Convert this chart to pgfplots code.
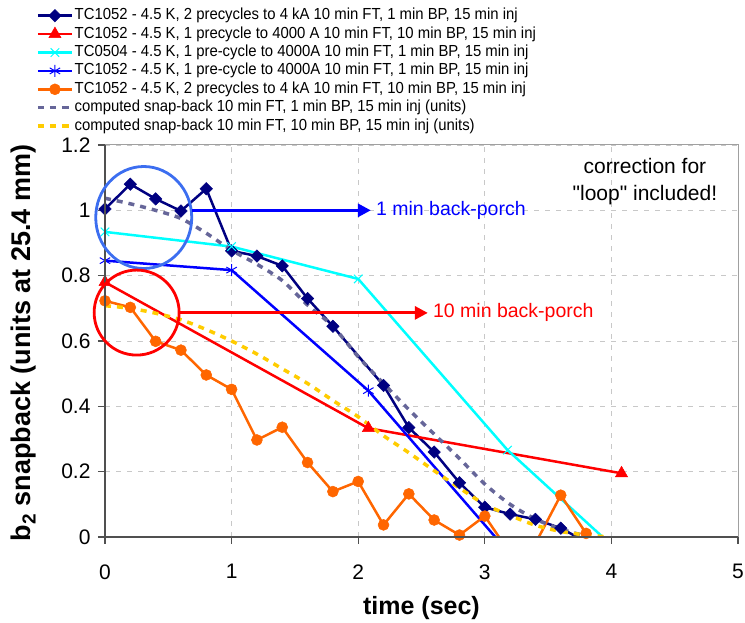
\documentclass[border=0pt]{standalone}
\usepackage{fontspec}
\setmainfont{Liberation Sans}
\newfontfamily\legfont{Liberation Sans}[FakeStretch=0.93]
\newfontfamily\nolig{Liberation Sans}[Ligatures=TeXOff]
\usepackage{pgfplots}
\pgfplotsset{compat=1.18}
\usetikzlibrary{arrows.meta}
\definecolor{cnavy}{RGB}{0,0,128}
\definecolor{cred}{RGB}{255,0,0}
\definecolor{ccyan}{RGB}{0,255,255}
\definecolor{cblue}{RGB}{0,0,255}
\definecolor{corange}{RGB}{255,102,0}
\definecolor{cgrey}{RGB}{102,102,153}
\definecolor{cyellow}{RGB}{255,204,0}
\definecolor{circblue}{RGB}{60,110,240}
\definecolor{axgray}{RGB}{80,80,80}
\definecolor{boxgray}{RGB}{160,160,160}
\definecolor{gridgray}{RGB}{200,200,200}
\begin{document}
\begin{tikzpicture}
\useasboundingbox (0,0) rectangle (745bp,623bp);
\begin{axis}[
  name=ax,
  at={(105bp,86bp)}, anchor=south west,
  scale only axis, width=633bp, height=392bp,
  xmin=0, xmax=5, ymin=0, ymax=1.2,
  xtick={0,1,2,3,4,5},
  ytick={0,0.2,0.4,0.6,0.8,1,1.2},
  yticklabels={0,0.2,0.4,0.6,0.8,1,1.2},
  xticklabels={0,1,2,3,4,5},
  tick align=outside, xtick pos=bottom, ytick pos=left,
  major tick length=7bp,
  tick style={draw=axgray, line width=1.2bp},
  axis line style={draw=boxgray, line width=1bp},
  grid=major,
  grid style={draw=gridgray, line width=0.8bp, dash pattern=on 5bp off 6bp},
  ticklabel style={font=\fontsize{21bp}{24bp}\selectfont},
  xticklabel style={yshift=-17bp},
  yticklabel style={xshift=-4bp},
  /pgf/number format/assume math mode=true,
  xlabel={time (sec)},
  ylabel={b\textsubscript{2} snapback (units at 25.4 mm)},
  xlabel style={font=\bfseries\fontsize{25bp}{28bp}\selectfont, at={(axis description cs:0.5,-0.181)}, anchor=center},
  ylabel style={font=\bfseries\fontsize{27bp}{30bp}\selectfont, at={(axis description cs:-0.128,0.495)}, anchor=center},
  legend cell align=left,
  legend style={at={(axis description cs:-0.109,1.352)}, anchor=north west,
    draw=none, fill=none, inner sep=0pt, row sep=1.4bp,
    font=\legfont\fontsize{16bp}{18bp}\selectfont,
    nodes={inner sep=1bp, text height=11.5bp, text depth=3.5bp}},
  legend image code/.code={\draw[mark repeat=2,mark phase=2,#1] plot coordinates {(0bp,0bp) (17bp,0bp) (34bp,0bp)};},
]
\addplot[color=cnavy, line width=2.5bp, mark=square*, mark size=4.4bp, mark options={solid, rotate=45, line width=0.5bp}] coordinates {
(0,1.004) (0.2,1.08) (0.4,1.035) (0.6,0.998) (0.8,1.066) (1.0,0.876) (1.2,0.86) (1.4,0.83) (1.6,0.73) (1.8,0.645) (2.2,0.464) (2.4,0.335) (2.6,0.26) (2.8,0.166) (3.0,0.091) (3.2,0.07) (3.4,0.054) (3.6,0.027) (3.8,-0.015)};
\addlegendentry{TC1052 - 4.5 K, 2 precycles to 4 kA 10 min FT, 1 min BP, 15 min inj}
\addplot[color=cred, line width=2.5bp, mark=triangle*, mark size=7bp, mark options={solid, line width=0.5bp}] coordinates {
(0,0.78) (2.08,0.333) (4.08,0.195)};
\addlegendentry{TC1052 - 4.5 K, 1 precycle to 4000 A 10 min FT, 10 min BP, 15 min inj}
\addplot[color=ccyan, line width=2.5bp, mark=x, mark size=6bp, mark options={solid, line width=1bp}] coordinates {
(0,0.934) (1.0,0.889) (2.0,0.79) (3.18,0.266) (4.1,-0.06)};
\addlegendentry{TC0504 - 4.5 K, 1 pre-cycle to 4000A 10 min FT, 1 min BP, 15 min inj}
\addplot[color=cblue, line width=2.5bp, mark=asterisk, mark size=6bp, mark options={solid, line width=1bp}] coordinates {
(0,0.846) (1.0,0.817) (2.08,0.448) (3.15,-0.03)};
\addlegendentry{TC1052 - 4.5 K, 1 pre-cycle to 4000A 10 min FT, 1 min BP, 15 min inj}
\addplot[color=corange, line width=2.5bp, mark=*, mark size=5.5bp, mark options={solid, line width=0.5bp}] coordinates {
(0,0.723) (0.2,0.703) (0.4,0.599) (0.6,0.572) (0.8,0.496) (1.0,0.452) (1.2,0.297) (1.4,0.336) (1.6,0.228) (1.8,0.139) (2.0,0.17) (2.2,0.037) (2.4,0.132) (2.6,0.052) (2.8,0.006) (3.0,0.064) (3.2,-0.05) (3.4,-0.02) (3.6,0.128) (3.8,0.011)};
\addlegendentry{TC1052 - 4.5 K, 2 precycles to 4 kA 10 min FT, 10 min BP, 15 min inj}
\addplot[color=cgrey, line width=3.5bp, dash pattern=on 6bp off 6bp, smooth] coordinates {
(0,1.037) (0.2,1.02) (0.4,1.0) (0.6,0.975) (0.8,0.93) (1.0,0.878) (1.2,0.835) (1.4,0.785) (1.6,0.71) (1.8,0.645) (2.0,0.552) (2.2,0.47) (2.4,0.39) (2.6,0.315) (2.8,0.24) (3.0,0.162) (3.2,0.1) (3.4,0.055) (3.6,0.024) (3.8,0.003)};
\addlegendentry{computed snap-back 10 min FT, 1 min BP, 15 min inj (units)}
\addplot[color=cyellow, line width=3.5bp, dash pattern=on 6bp off 6bp, smooth] coordinates {
(0,0.708) (0.2,0.70) (0.4,0.685) (0.6,0.665) (0.8,0.635) (1.0,0.6) (1.2,0.56) (1.4,0.515) (1.6,0.47) (1.8,0.418) (2.0,0.368) (2.2,0.31) (2.4,0.258) (2.6,0.203) (2.8,0.15) (3.0,0.1) (3.2,0.066) (3.4,0.036) (3.6,0.017) (3.8,0.006) (3.95,0.001)};
\addlegendentry{computed snap-back 10 min FT, 10 min BP, 15 min inj (units)}
\coordinate (bcirc) at (axis cs:0.306,0.978);
\coordinate (rcirc) at (axis cs:0.25,0.687);
\coordinate (ba1) at (axis cs:0.687,1.0);
\coordinate (ba2) at (axis cs:2.10,1.0);
\coordinate (ra1) at (axis cs:0.585,0.686);
\coordinate (ra2) at (axis cs:2.55,0.686);
\coordinate (btxt) at (axis cs:2.14,1.0);
\coordinate (rtxt) at (axis cs:2.59,0.686);
\coordinate (ctxt) at (axis cs:4.265,1.088);
\end{axis}
\draw[axgray, line width=1.5bp] (ax.north west) -- (ax.south west) -- (ax.south east);
\draw[circblue, line width=2.8bp] (bcirc) ellipse [x radius=48bp, y radius=51bp];
\draw[cred, line width=2.8bp] (rcirc) circle [radius=42.5bp];
\draw[cblue, line width=3bp, -{Triangle[length=13bp,width=13bp]}] (ba1) -- (ba2);
\draw[cred, line width=3bp, -{Triangle[length=13bp,width=13bp]}] (ra1) -- (ra2);
\node[anchor=west, inner sep=0pt, text=cblue, font=\fontsize{19.5bp}{22bp}\selectfont] at (btxt) {1 min back-porch};
\node[anchor=west, inner sep=0pt, text=cred, font=\fontsize{19.5bp}{22bp}\selectfont] at (rtxt) {10 min back-porch};
\node[align=center, inner sep=0pt, font=\nolig\fontsize{21bp}{27bp}\selectfont] at (ctxt) {correction for\\"loop" included!};
\end{tikzpicture}
\end{document}
